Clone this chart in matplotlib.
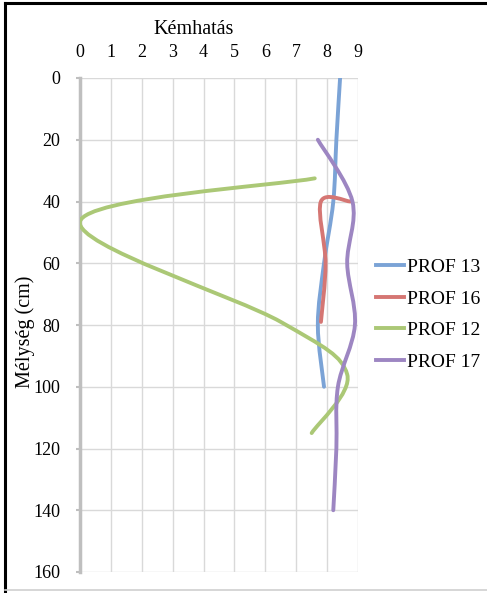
import numpy as np
import matplotlib as mpl
mpl.use('Agg')
import matplotlib.pyplot as plt
from matplotlib.path import Path
from matplotlib.patches import PathPatch
from matplotlib.lines import Line2D

mpl.rc('font', family='Liberation Serif', size=13)

# data: pH (Kémhatás) vs depth (cm)
names = ['PROF 13', 'PROF 16', 'PROF 12', 'PROF 17']
colors = ['#7BA3D6', '#D57673', '#ABC876', '#9D86C2']

prof13_ph = [8.42, 8.3, 8.2, 7.9, 7.7, 7.9]
prof13_depth = [0, 20, 40, 60, 80, 100]

prof16_ph = [8.75, 7.8, 7.95, 7.8]
prof16_depth = [40, 40, 60, 79]

prof12_ph = [7.6, 0.0, 6.5, 8.65, 7.5]
prof12_depth = [32.5, 46.5, 79, 96, 115]

prof17_ph = [7.7, 8.82, 8.65, 8.9, 8.35, 8.3, 8.2]
prof17_depth = [20, 40, 60, 80, 100, 120, 140]

series = [(prof13_ph, prof13_depth), (prof16_ph, prof16_depth),
          (prof12_ph, prof12_depth), (prof17_ph, prof17_depth)]


def smooth_path(xs, ys):
    # excel-like smoothed line: catmull-rom turned into cubic bezier segments
    p = np.column_stack([xs, ys]).astype(float)
    n = len(p)
    verts = [p[0]]
    codes = [Path.MOVETO]
    for i in range(n - 1):
        p0 = p[i - 1] if i > 0 else p[i]
        p3 = p[i + 2] if i + 2 < n else p[i + 1]
        c1 = p[i] + (p[i + 1] - p0) / 6.0
        c2 = p[i + 1] - (p3 - p[i]) / 6.0
        verts += [c1, c2, p[i + 1]]
        codes += [Path.CURVE4] * 3
    return Path(verts, codes)


fig = plt.figure(figsize=(4.87, 5.93), dpi=100)
ax = fig.add_axes([80 / 487, 1 - 572 / 593, 278 / 487, 494 / 593])

for (ph, depth), c in zip(series, colors):
    ax.add_patch(PathPatch(smooth_path(ph, depth), fill=False, edgecolor=c,
                           lw=2.8, capstyle='round', joinstyle='round', zorder=3))

ax.set_xlim(0, 9)
ax.set_ylim(160, 0)
ax.set_xticks(range(0, 10))
ax.set_yticks(range(0, 161, 20))
ax.xaxis.tick_top()
ax.grid(True, color='#d9d9d9', lw=1)
ax.set_axisbelow(True)
for s in ['top', 'right', 'bottom']:
    ax.spines[s].set_visible(False)
ax.spines['left'].set_color('#bfbfbf')
ax.spines['left'].set_linewidth(2.5)
ax.tick_params(axis='x', length=0, pad=12, labelsize=13)
ax.tick_params(axis='y', length=3, width=1.5, color='#bfbfbf', pad=11, labelsize=13)

fig.text(194 / 487, 1 - 29 / 593, 'Kémhatás', ha='center', va='center', fontsize=14.5)
fig.text(25 / 487, 1 - 332 / 593, 'Mélység (cm)', ha='center', va='center',
         rotation=90, fontsize=14.5)

handles = [Line2D([], [], color=c, lw=2.8) for c in colors]
fig.legend(handles, names, loc='center left', bbox_to_anchor=(376 / 487, 1 - 314.5 / 593),
           frameon=False, fontsize=14, handlelength=1.45, handletextpad=0.15,
           labelspacing=0.72, borderpad=0, borderaxespad=0)

# border around the chart area
fig.add_artist(Line2D([5 / 487, 5 / 487], [1 - 3 / 593, 0], color='black', lw=2.2,
                      transform=fig.transFigure))
fig.add_artist(Line2D([5 / 487, 1], [1 - 3 / 593, 1 - 3 / 593], color='black', lw=2.2,
                      transform=fig.transFigure))
fig.add_artist(Line2D([5 / 487, 1], [1 - 590 / 593, 1 - 590 / 593], color='#d0d0d0', lw=1.2,
                      transform=fig.transFigure))

fig.savefig('out.png', dpi=100)
